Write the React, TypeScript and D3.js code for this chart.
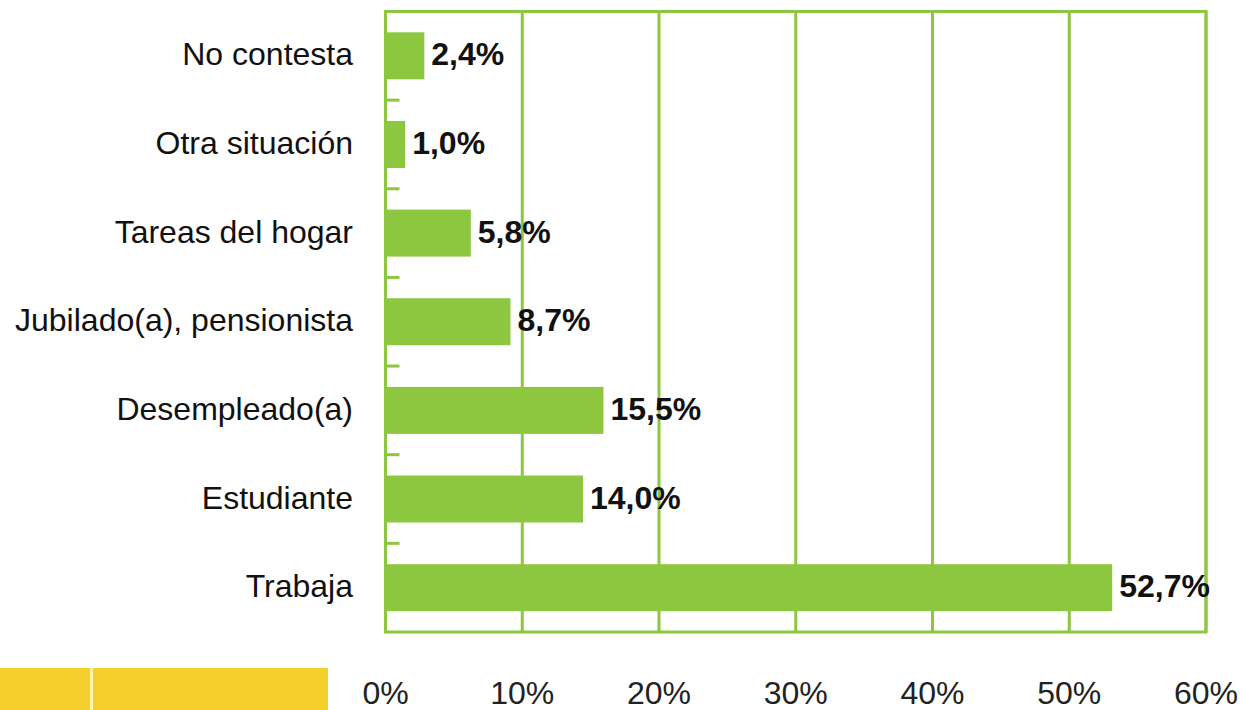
import React, { useEffect, useRef } from 'react'
import * as d3 from 'd3'

// situación laboral
const categories = ['No contesta', 'Otra situación', 'Tareas del hogar', 'Jubilado(a), pensionista', 'Desempleado(a)', 'Estudiante', 'Trabaja']
const values = [2.4, 1.0, 5.8, 8.7, 15.5, 14.0, 52.7]
const xTicks = [0, 10, 20, 30, 40, 50, 60]

const W = 1241
const H = 710
const GREEN = '#8dc63f'
const FONT = '"Liberation Sans Narrow", "Liberation Sans", Arial, sans-serif'

export default function App() {
  const ref = useRef<SVGSVGElement>(null)

  useEffect(() => {
    const svg = d3.select(ref.current)
    svg.selectAll('*').remove()

    const left = 385.5, right = 1206, top = 11.5, bottom = 632
    const x = d3.scaleLinear().domain([0, 60]).range([left, right])
    const y = d3.scaleBand().domain(categories).range([top, bottom]).paddingInner(0.47).paddingOuter(0.235)
    const band = d3.scaleBand().domain(categories).range([top, bottom])
    const extra = 6 // bars in the original run a few px past the value

    // yellow strip bottom left
    svg.append('rect').attr('x', 0).attr('y', 668).attr('width', 328).attr('height', 42).attr('fill', '#f5cf2c')
    svg.append('rect').attr('x', 90).attr('y', 668).attr('width', 3).attr('height', 42).attr('fill', '#fdf1b0')

    // gridlines
    svg.append('g').selectAll('line').data(xTicks).enter().append('line')
      .attr('x1', d => x(d)).attr('x2', d => x(d))
      .attr('y1', top).attr('y2', bottom)
      .attr('stroke', GREEN).attr('stroke-width', 3)

    // frame
    svg.append('rect').attr('x', left).attr('y', top).attr('width', right - left).attr('height', bottom - top)
      .attr('fill', 'none').attr('stroke', GREEN).attr('stroke-width', 3)

    // category separator ticks
    svg.append('g').selectAll('line').data(categories.slice(1)).enter().append('line')
      .attr('x1', left).attr('x2', left + 14)
      .attr('y1', d => band(d)!).attr('y2', d => band(d)!)
      .attr('stroke', GREEN).attr('stroke-width', 3)

    const rows = svg.append('g').selectAll('g').data(categories).enter().append('g')

    rows.append('rect')
      .attr('x', left)
      .attr('y', d => y(d)!)
      .attr('width', (d, i) => x(values[i]) - left + extra)
      .attr('height', y.bandwidth())
      .attr('fill', GREEN)

    rows.append('text')
      .attr('x', 353)
      .attr('y', d => y(d)! + y.bandwidth() / 2 - 2)
      .attr('dy', '0.36em')
      .attr('text-anchor', 'end')
      .style('font-family', FONT)
      .style('font-size', '32px')
      .attr('fill', '#111')
      .text(d => d)

    rows.append('text')
      .attr('x', (d, i) => x(values[i]) + extra + 7)
      .attr('y', d => y(d)! + y.bandwidth() / 2 - 2)
      .attr('dy', '0.36em')
      .style('font-family', FONT)
      .style('font-size', '32px')
      .style('font-weight', 'bold')
      .attr('fill', '#111')
      .text((d, i) => values[i].toFixed(1).replace('.', ',') + '%')

    // x tick labels
    svg.append('g').selectAll('text').data(xTicks).enter().append('text')
      .attr('x', d => x(d))
      .attr('y', 692)
      .attr('dy', '0.36em')
      .attr('text-anchor', 'middle')
      .style('font-family', FONT)
      .style('font-size', '32px')
      .attr('fill', '#222')
      .text(d => d + '%')
  }, [])

  return (
    <svg ref={ref} width={W} height={H} style={{ position: 'absolute', left: 0, top: 0, background: '#fff' }}></svg>
  )
}
